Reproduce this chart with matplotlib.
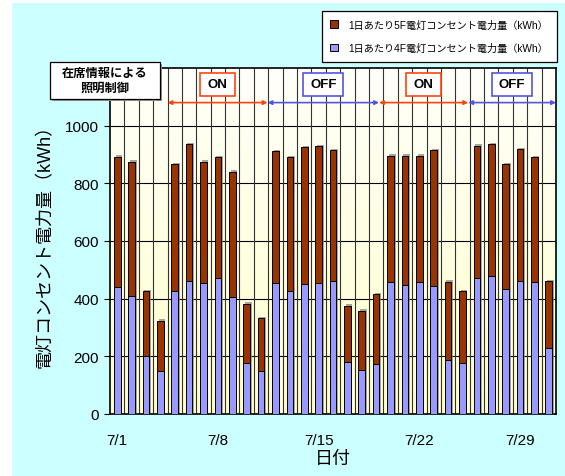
import matplotlib
matplotlib.use("Agg")
import matplotlib.pyplot as plt
import matplotlib.patheffects as pe
from matplotlib.colors import LinearSegmentedColormap
from matplotlib.patches import Patch, Rectangle
import numpy as np

plt.rcParams['font.family'] = ['Liberation Sans', 'Noto Sans CJK JP']

# 7月の日別データ
days = list(range(1, 32))
f4 = [442, 410, 200, 148, 427, 462, 455, 472, 407, 177, 150, 454, 428, 450, 454, 462,
      179, 153, 172, 457, 447, 457, 444, 187, 177, 471, 479, 433, 462, 457, 229]
f5 = [451, 465, 226, 175, 440, 473, 420, 418, 433, 206, 182, 458, 462, 475, 475, 452,
      196, 205, 244, 439, 449, 439, 470, 272, 248, 459, 457, 434, 457, 434, 232]
tick_days = [1, 8, 15, 22, 29]
tick_labels = ["7/1", "7/8", "7/15", "7/22", "7/29"]

# 照明制御の期間 (開始, 終了, ラベル)
periods = [(4.5, 11.45, "ON"), (11.45, 19.2, "OFF"), (19.2, 25.4, "ON"), (25.4, 31.5, "OFF")]
period_colors = {"ON": "#FF4411", "OFF": "#5555DD"}

W, H = 565, 477
fig = plt.figure(figsize=(W / 100, H / 100), dpi=100, facecolor="white")
fig.patches.append(Rectangle((12 / W, 0), 1, 1 - 4 / H, transform=fig.transFigure,
                             facecolor="#CCFFFF", edgecolor="none", zorder=-5))

ax = fig.add_axes([110 / W, 1 - 415 / H, 446 / W, 346 / H])
ax.set_zorder(2)
ax.set_xlim(0.5, 31.5)
ax.set_ylim(0, 1200)

# 背景のグラデーション
cmap = LinearSegmentedColormap.from_list("bg", ["#FFFFCC", "#FFFFFA"])
ax.imshow(np.linspace(0, 1, 100).reshape(-1, 1), cmap=cmap, origin="lower",
          extent=[0.5, 31.5, 0, 1200], aspect="auto", zorder=0)

for y in range(200, 1001, 200):
    ax.axhline(y, color="black", lw=0.8, zorder=1)
for x in np.arange(1.5, 31.5, 1):
    ax.axvline(x, color="#333333", lw=0.8, zorder=1)

shadow = [pe.SimplePatchShadow(offset=(1.2, 1.0), shadow_rgbFace="gray", alpha=0.7), pe.Normal()]
ax.bar(days, f4, width=0.46, color="#9999FF", edgecolor="black", lw=0.7, zorder=3,
       path_effects=shadow)
ax.bar(days, f5, width=0.46, bottom=f4, color="#993300", edgecolor="black", lw=0.7, zorder=3,
       path_effects=shadow)

ax.set_yticks(range(0, 1001, 200))
ax.set_xticks(tick_days)
ax.set_xticklabels(tick_labels)
ax.tick_params(axis="y", labelsize=11, length=4, width=0.8, pad=4)
ax.tick_params(axis="x", labelsize=11, length=0, pad=14)
for s in ax.spines.values():
    s.set_linewidth(1.2)
    s.set_color("black")

ax.set_ylabel("電灯コンセント電力量（kWh）", fontsize=13, labelpad=8)
ax.set_xlabel("日付", fontsize=13, labelpad=2)

# ON/OFF の期間表示
for start, end, label in periods:
    c = period_colors[label]
    ax.annotate("", xy=(start, 1080), xytext=(end, 1080),
                arrowprops=dict(arrowstyle="<|-|>", color=c, lw=1.2,
                                mutation_scale=6, shrinkA=0, shrinkB=0),
                annotation_clip=False, zorder=5)
    mid = (start + end) / 2
    bw = 2.45 if label == "ON" else 2.8
    ax.add_patch(Rectangle((mid - bw / 2, 1103), bw, 80, facecolor="white",
                           edgecolor=c, lw=1.2, zorder=5, clip_on=False))
    ax.text(mid, 1143, label, ha="center", va="center", fontsize=9.5,
            fontweight="bold", zorder=6)

# 左上の説明ボックス
fig.patches.append(Rectangle((52 / W, 1 - 102 / H), 110 / W, 37 / H, transform=fig.transFigure,
                             facecolor="#999999", edgecolor="none", zorder=9))
fig.patches.append(Rectangle((50 / W, 1 - 100 / H), 110 / W, 37 / H, transform=fig.transFigure,
                             facecolor="white", edgecolor="black", lw=0.9, zorder=10))
fig.text(105 / W, 1 - 81.5 / H, "在席情報による\n照明制御", ha="center", va="center",
         fontsize=8.8, fontweight="bold", linespacing=1.25, zorder=11)

handles = [Patch(facecolor="#993300", edgecolor="black", lw=0.7),
           Patch(facecolor="#9999FF", edgecolor="black", lw=0.7)]
labels = ["1日あたり5F電灯コンセント電力量（kWh）", "1日あたり4F電灯コンセント電力量（kWh）"]
leg = fig.legend(handles, labels, loc="upper right", bbox_to_anchor=(557 / W, 1 - 12 / H),
                 fontsize=7.3, frameon=True, fancybox=False, edgecolor="black",
                 framealpha=1, handlelength=0.8, handleheight=0.8, labelspacing=1.3,
                 borderpad=0.85, handletextpad=1.0, borderaxespad=0)
leg.get_frame().set_linewidth(0.9)
leg.set_zorder(12)

fig.savefig("out.png", dpi=100, facecolor=fig.get_facecolor())
